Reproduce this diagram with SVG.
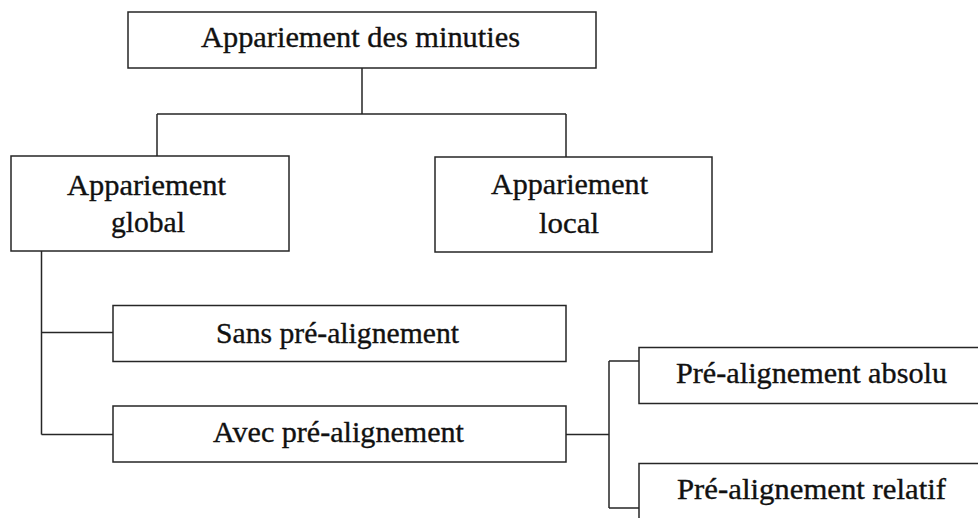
<svg xmlns="http://www.w3.org/2000/svg" width="978" height="518" viewBox="0 0 978 518">
<style>
.box{fill:#fff;stroke:#262626;stroke-width:1.5}
.ln{fill:none;stroke:#262626;stroke-width:1.5}
text{font-family:"Liberation Serif","Times New Roman",serif;font-size:29px;fill:#111;stroke:#111;stroke-width:0.35}
</style>
<rect width="978" height="518" fill="#fff"/>
<g id="connectors">
<path class="ln" d="M362 68V114M157 114H566M157 114V156M566 114V157"/>
<path class="ln" d="M41.5 251V434.5M41.5 332.5H113M41.5 434.5H113"/>
<path class="ln" d="M566 434.5H609M609 361V508M609 361H639M609 508H639"/>
</g>
<g id="n-root">
<rect class="box" x="128" y="12" width="468" height="56"/>
<text x="201" y="47" textLength="319" lengthAdjust="spacingAndGlyphs">Appariement des minuties</text>
</g>
<g id="n-global">
<rect class="box" x="11" y="156" width="278" height="95"/>
<text x="67" y="195" textLength="159" lengthAdjust="spacingAndGlyphs">Appariement</text>
<text x="111" y="232" textLength="74" lengthAdjust="spacingAndGlyphs">global</text>
</g>
<g id="n-local">
<rect class="box" x="435" y="157" width="277" height="95"/>
<text x="491" y="194" textLength="157" lengthAdjust="spacingAndGlyphs">Appariement</text>
<text x="539" y="233" textLength="60" lengthAdjust="spacingAndGlyphs">local</text>
</g>
<g id="n-sans">
<rect class="box" x="113" y="305.5" width="453" height="56"/>
<text x="216" y="343" textLength="243" lengthAdjust="spacingAndGlyphs">Sans pré-alignement</text>
</g>
<g id="n-avec">
<rect class="box" x="113" y="406" width="453" height="56"/>
<text x="213" y="442" textLength="251" lengthAdjust="spacingAndGlyphs">Avec pré-alignement</text>
</g>
<g id="n-absolu">
<rect class="box" x="639" y="347.5" width="360" height="56"/>
<text x="676" y="383" textLength="271" lengthAdjust="spacingAndGlyphs">Pré-alignement absolu</text>
</g>
<g id="n-relatif">
<rect class="box" x="639" y="463.5" width="360" height="80"/>
<text x="677" y="499" textLength="269" lengthAdjust="spacingAndGlyphs">Pré-alignement relatif</text>
</g>
</svg>
